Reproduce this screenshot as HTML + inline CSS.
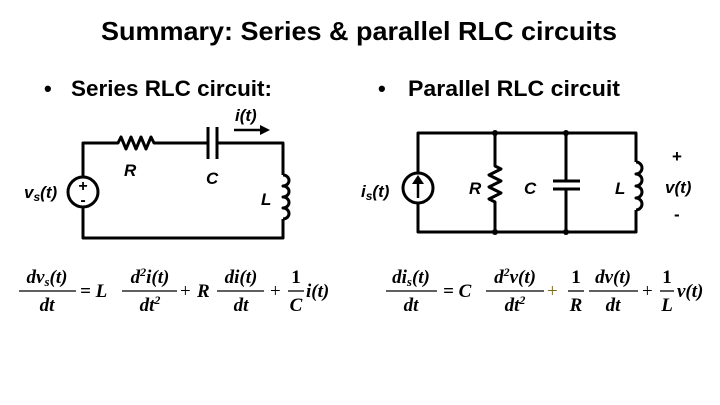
<!DOCTYPE html>
<html><head><style>
html,body{margin:0;padding:0;background:#fff;}
svg{display:block;}
.t{font-family:"Liberation Sans",sans-serif;}
.e{font-family:"Liberation Serif",serif;font-weight:bold;font-style:italic;font-size:19px;}
.c{font-family:"Liberation Sans",sans-serif;font-weight:bold;font-style:italic;font-size:17px;}
</style></head><body>
<svg width="720" height="405" viewBox="0 0 720 405" xmlns="http://www.w3.org/2000/svg">
<rect width="720" height="405" fill="#fff"/>
<text class="t" x="359" y="40" text-anchor="middle" font-size="26" font-weight="bold" textLength="516" lengthAdjust="spacingAndGlyphs">Summary: Series &amp; parallel RLC circuits</text>
<text class="t" x="44" y="96" font-size="22" font-weight="bold">•</text>
<text class="t" x="71" y="96" font-size="22" font-weight="bold" textLength="201" lengthAdjust="spacingAndGlyphs">Series RLC circuit:</text>
<text class="t" x="378" y="96" font-size="22" font-weight="bold">•</text>
<text class="t" x="408" y="96" font-size="22" font-weight="bold" textLength="212" lengthAdjust="spacingAndGlyphs">Parallel RLC circuit</text>

<g stroke="#000" stroke-width="3" fill="none" stroke-linejoin="round">
<!-- series -->
<path d="M83 177 V143 H118 l3 -6 l5 12 l5 -12 l5 12 l5 -12 l5 12 l5 -12 l3 6 H208"/>
<path d="M208 127 V159 M217 127 V159"/>
<path d="M217 143 H283 V175"/>
<path d="M283 175 a6 5.5 0 0 1 0 11 a6 5.5 0 0 1 0 11 a6 5.5 0 0 1 0 11 a6 5.5 0 0 1 0 11"/>
<path d="M283 219 V238 H83 V207"/>
<circle cx="83" cy="192" r="15"/>
<path d="M234 130 H262" stroke-width="2.5"/>
<!-- parallel -->
<path d="M418 173 V133 H636 V162 M418 203 V232 H636 V210"/>
<path d="M636 162 a6 6 0 0 1 0 12 a6 6 0 0 1 0 12 a6 6 0 0 1 0 12 a6 6 0 0 1 0 12"/>
<path d="M495 133 V166 l6 3 l-12 6 l12 6 l-12 6 l12 6 l-12 6 l6 3 V232"/>
<path d="M566 133 V181 M566 189 V232"/>
<path d="M553 181 H580 M553 189 H580"/>
<circle cx="418" cy="188" r="15"/>
<path d="M418 198 V181" stroke-width="2.5"/>
</g>
<path d="M260 125 L270 130 L260 135 Z" fill="#000"/>
<path d="M412 184 L418 175 L424 184 Z" fill="#000"/>
<g fill="#000">
<circle cx="495" cy="133" r="3"/><circle cx="566" cy="133" r="3"/>
<circle cx="495" cy="232" r="3"/><circle cx="566" cy="232" r="3"/>
</g>
<g class="c">
<text x="83" y="191" text-anchor="middle" font-style="normal" font-size="16">+</text>
<text x="83" y="205" text-anchor="middle" font-style="normal" font-size="16">-</text>
<text x="24" y="198">v<tspan font-size="12" dy="3">s</tspan><tspan dy="-3">(t)</tspan></text>
<text x="124" y="176">R</text>
<text x="206" y="184">C</text>
<text x="261" y="205">L</text>
<text x="235" y="121">i(t)</text>
<text x="361" y="197">i<tspan font-size="12" dy="3">s</tspan><tspan dy="-3">(t)</tspan></text>
<text x="469" y="194">R</text>
<text x="524" y="194">C</text>
<text x="615" y="194">L</text>
<text x="672" y="162" font-style="normal">+</text>
<text x="665" y="193">v(t)</text>
<text x="674" y="220" font-style="normal">-</text>
</g>

<g class="e">
<!-- left equation -->
<text x="47" y="283" text-anchor="middle">dv<tspan font-size="13" dy="3">s</tspan><tspan dy="-3">(t)</tspan></text>
<line x1="19" y1="291" x2="76" y2="291" stroke="#000" stroke-width="1.3"/>
<text x="47" y="311" text-anchor="middle">dt</text>
<text x="80" y="297">= L</text>
<text x="150" y="283" text-anchor="middle">d<tspan font-size="12" dy="-7">2</tspan><tspan dy="7">i(t)</tspan></text>
<line x1="122" y1="291" x2="177" y2="291" stroke="#000" stroke-width="1.3"/>
<text x="150" y="311" text-anchor="middle">dt<tspan font-size="12" dy="-7">2</tspan></text>
<text x="180" y="297" font-style="normal" font-weight="normal">+</text>
<text x="197" y="297">R</text>
<text x="241" y="283" text-anchor="middle">di(t)</text>
<line x1="217" y1="291" x2="264" y2="291" stroke="#000" stroke-width="1.3"/>
<text x="241" y="311" text-anchor="middle">dt</text>
<text x="270" y="297" font-style="normal" font-weight="normal">+</text>
<text x="296" y="283" text-anchor="middle" font-style="normal">1</text>
<line x1="288" y1="291" x2="304" y2="291" stroke="#000" stroke-width="1.3"/>
<text x="296" y="311" text-anchor="middle">C</text>
<text x="306" y="297">i(t)</text>
<!-- right equation -->
<text x="411" y="283" text-anchor="middle">di<tspan font-size="13" dy="3">s</tspan><tspan dy="-3">(t)</tspan></text>
<line x1="386" y1="291" x2="437" y2="291" stroke="#000" stroke-width="1.3"/>
<text x="411" y="311" text-anchor="middle">dt</text>
<text x="443" y="297">= C</text>
<text x="515" y="283" text-anchor="middle">d<tspan font-size="12" dy="-7">2</tspan><tspan dy="7">v(t)</tspan></text>
<line x1="486" y1="291" x2="544" y2="291" stroke="#000" stroke-width="1.3"/>
<text x="515" y="311" text-anchor="middle">dt<tspan font-size="12" dy="-7">2</tspan></text>
<text x="547" y="297" font-style="normal" font-weight="normal" fill="#7a6a20">+</text>
<text x="576" y="283" text-anchor="middle" font-style="normal">1</text>
<line x1="568" y1="291" x2="584" y2="291" stroke="#000" stroke-width="1.3"/>
<text x="576" y="311" text-anchor="middle">R</text>
<text x="613" y="283" text-anchor="middle">dv(t)</text>
<line x1="589" y1="291" x2="638" y2="291" stroke="#000" stroke-width="1.3"/>
<text x="613" y="311" text-anchor="middle">dt</text>
<text x="642" y="297" font-style="normal" font-weight="normal">+</text>
<text x="667" y="283" text-anchor="middle" font-style="normal">1</text>
<line x1="660" y1="291" x2="674" y2="291" stroke="#000" stroke-width="1.3"/>
<text x="667" y="311" text-anchor="middle">L</text>
<text x="677" y="297">v(t)</text>
</g>
</svg>
</body></html>
